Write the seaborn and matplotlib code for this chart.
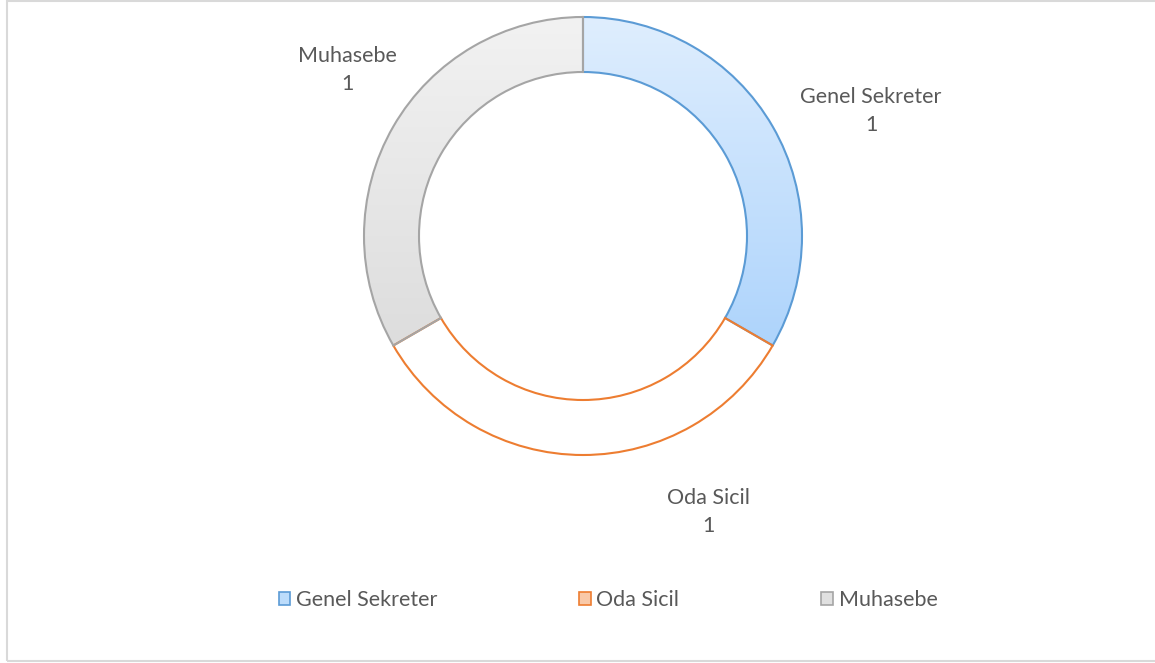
"""Donut chart: staff count per unit."""

import matplotlib

matplotlib.use("Agg")

import matplotlib.pyplot as plt
import numpy as np
import seaborn as sns
from matplotlib.colors import to_rgb
from matplotlib.patches import Patch, Rectangle

# data
CATEGORIES = ["Genel Sekreter", "Oda Sicil", "Muhasebe"]
VALUES = [1, 1, 1]

# style
EDGE_COLORS = ["#5b9bd5", "#ed7d31", "#a5a5a5"]
GRADIENTS = [("#dfeefe", "#9dcbfb"), ("#ffffff", "#ffffff"), ("#f2f2f2", "#d6d6d6")]
LEGEND_FILLS = ["#bcdcfb", "#f9c9a8", "#e0e0e0"]
TEXT_COLOR = "#595959"
FONT = ["Lato", "DejaVu Sans"]
FONT_SIZE = 15.5

W, H = 1155, 663
CX, CY = 583, 236          # centre in pixels from the top
R_OUT, RING = 219, 55
LABEL_POS = [(871, 111), (708, 512), (347, 70)]

sns.set_theme(style="white")
plt.rcParams["font.family"] = FONT

fig = plt.figure(figsize=(W / 100, H / 100), dpi=100)
ax = fig.add_axes([0, 0, 1, 1])

wedges, _ = ax.pie(
    VALUES,
    center=(CX, H - CY),
    radius=R_OUT,
    startangle=90,
    counterclock=False,
    colors=["none"] * len(VALUES),
    wedgeprops=dict(width=RING, linewidth=1.5),
)

for wedge, edge, (top, bottom) in zip(wedges, EDGE_COLORS, GRADIENTS):
    wedge.set_edgecolor(edge)
    grad = np.linspace(to_rgb(top), to_rgb(bottom), 256)[:, None, :]
    img = ax.imshow(
        grad,
        extent=(CX - R_OUT, CX + R_OUT, H - CY - R_OUT, H - CY + R_OUT),
        origin="upper",
        aspect="auto",
        zorder=wedge.get_zorder() - 0.1,
    )
    img.set_clip_path(wedge)

for label, value, (x, y) in zip(CATEGORIES, VALUES, LABEL_POS):
    ax.text(x, H - y, f"{label}\n{value}", ha="center", va="center",
            fontsize=FONT_SIZE, color=TEXT_COLOR, linespacing=1.5)

ax.set_xlim(0, W)
ax.set_ylim(0, H)
ax.axis("off")

handles = [Patch(facecolor=f, edgecolor=e, linewidth=1.2)
           for f, e in zip(LEGEND_FILLS, EDGE_COLORS)]
fig.legend(
    handles, CATEGORIES,
    loc="center", bbox_to_anchor=(608 / W, 1 - 600 / H),
    ncol=3, frameon=False, fontsize=FONT_SIZE, labelcolor=TEXT_COLOR,
    handlelength=0.55, handleheight=0.55, handletextpad=0.25, columnspacing=6.6,
)

fig.patches.append(Rectangle((6.5 / W, 2.5 / H), 1.2, 1 - 3 / H,
                             transform=fig.transFigure, fill=False,
                             edgecolor="#d9d9d9", linewidth=1.5))

fig.savefig("out.png", dpi=100)
